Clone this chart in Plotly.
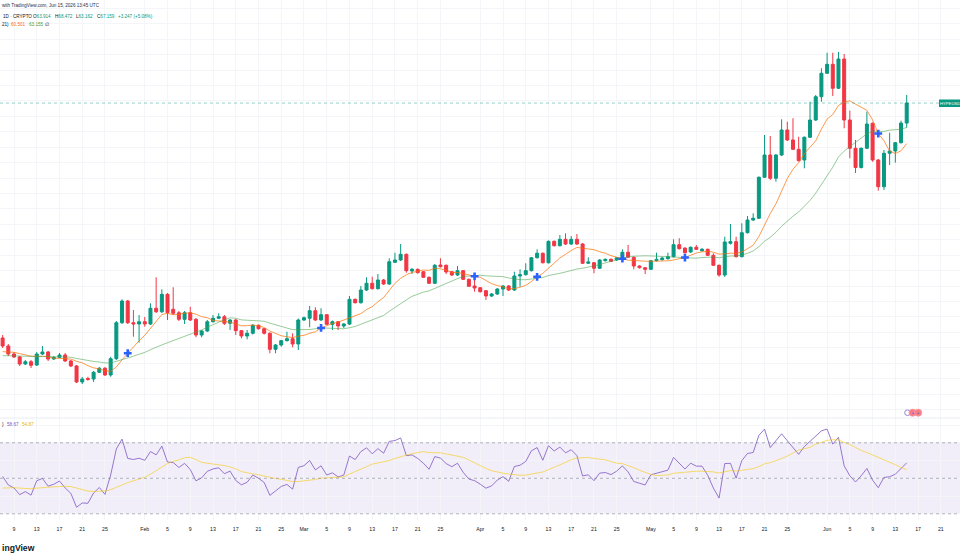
import numpy as np
import pandas as pd
import plotly.graph_objects as go

# ---------------- data ----------------
DATES = pd.date_range("2026-01-07", "2026-06-15", freq="D")

OPEN = [
    # Jan 7-31
    29.09, 27.80, 26.50, 26.02, 24.88, 25.25, 24.72, 26.50, 26.83, 25.69, 25.97, 26.34, 25.37, 24.56, 21.97, 22.53,
    22.45, 23.54, 24.19, 23.10, 25.74, 31.57, 35.09, 31.57, 31.36,
    # Feb
    31.73, 31.36, 33.91, 33.35, 36.17, 33.74, 33.19, 32.12, 33.19, 32.12, 29.58, 30.23, 31.73, 32.29, 32.54, 31.48,
    32.01, 30.28, 29.42, 29.86, 31.15, 30.60, 29.86, 27.26, 27.96, 28.66, 28.98, 28.12,
    # Mar
    32.01, 32.29, 33.52, 32.01, 32.87, 31.31, 31.73, 31.04, 31.36, 35.36, 34.81, 36.87, 37.96, 37.08, 38.49, 37.84,
    41.36, 41.73, 42.65, 39.95, 40.22, 39.83, 38.93, 37.96, 40.92, 40.87, 39.83, 39.30, 40.00, 38.60, 37.52,
    # Apr
    37.24, 36.76, 35.90, 36.22, 37.03, 37.52, 36.87, 39.14, 39.35, 40.00, 42.10, 42.82, 41.29, 44.76, 44.05, 45.08,
    44.32, 45.08, 44.32, 41.20, 41.29, 40.39, 41.62, 41.84, 41.73, 42.10, 42.98, 42.17, 40.76, 40.48,
    # May
    40.22, 41.62, 41.78, 41.94, 42.27, 44.21, 43.67, 43.03, 43.79, 43.24, 43.46, 42.49, 40.87, 39.30, 44.44, 44.70,
    42.27, 46.15, 48.21, 48.49, 55.13, 58.74, 54.97, 58.74, 62.79, 61.17, 59.66, 57.93, 61.61, 64.41, 68.18,
    # Jun 1-15
    71.98, 73.43, 69.55, 74.29, 64.41, 59.83, 56.72, 59.83, 63.88, 57.93, 53.60, 59.02, 59.39, 60.73, 63.914,
]
HIGH = [
    29.58, 28.12, 26.83, 26.18, 25.53, 25.53, 26.83, 27.80, 26.99, 26.18, 26.66, 26.66, 25.53, 24.72, 22.78, 22.82,
    23.75, 24.40, 24.40, 26.06, 31.85, 35.36, 35.25, 33.63, 32.82,
    32.50, 34.72, 38.93, 36.98, 36.38, 37.31, 33.47, 33.47, 34.16, 32.33, 30.39, 32.01, 32.82, 33.10, 32.82, 32.17,
    32.17, 30.39, 30.39, 31.36, 31.28, 30.71, 29.99, 28.12, 28.77, 30.11, 29.86, 32.25,
    32.58, 34.28, 34.07, 33.91, 32.98, 31.93, 31.85, 31.52, 35.90, 35.49, 37.52, 38.93, 39.02, 39.46, 38.65, 42.01,
    42.91, 44.32, 42.78, 40.43, 40.35, 39.95, 39.06, 41.08, 42.01, 41.00, 39.95, 40.76, 40.11, 38.73, 38.49,
    37.36, 36.87, 36.38, 37.19, 37.68, 37.68, 39.83, 40.22, 41.20, 42.22, 43.46, 42.95, 44.89, 44.89, 45.78, 46.06,
    45.62, 45.94, 44.48, 42.17, 41.41, 41.89, 41.97, 41.97, 42.22, 43.46, 44.16, 42.30, 40.87, 40.60,
    41.73, 42.91, 42.22, 42.91, 45.08, 45.25, 43.76, 43.92, 44.16, 43.67, 43.59, 42.82, 41.00, 45.50, 47.56, 45.50,
    47.68, 48.86, 49.30, 55.26, 61.98, 61.82, 58.90, 64.52, 64.13, 64.69, 61.70, 61.74, 67.37, 68.46, 72.79,
    75.31, 75.31, 75.45, 75.10, 65.92, 61.17, 59.96, 65.76, 64.01, 58.09, 59.55, 62.35, 60.85, 64.30, 68.472,
]
LOW = [
    27.47, 26.18, 25.85, 24.56, 24.72, 24.23, 24.56, 26.34, 25.37, 25.53, 25.85, 25.21, 24.40, 21.80, 21.64, 22.18,
    21.97, 23.42, 22.94, 22.82, 25.53, 31.36, 31.36, 29.30, 28.33,
    30.92, 31.20, 33.14, 33.14, 32.01, 32.82, 31.85, 31.36, 31.85, 29.21, 29.21, 30.07, 31.61, 32.17, 31.20, 30.39,
    29.58, 29.05, 28.88, 29.66, 30.47, 29.66, 26.62, 26.62, 27.69, 28.53, 27.59, 27.15,
    31.85, 30.83, 31.85, 31.85, 31.20, 30.39, 30.39, 30.71, 31.20, 34.68, 34.68, 36.71, 36.95, 36.95, 37.68, 37.68,
    41.24, 41.57, 39.67, 39.46, 39.54, 38.81, 37.84, 37.84, 40.52, 39.46, 39.14, 39.14, 38.49, 37.36, 36.59,
    36.47, 35.25, 35.74, 36.06, 35.90, 36.71, 36.71, 37.40, 39.22, 39.87, 41.97, 41.16, 41.16, 43.92, 43.92, 44.16,
    44.16, 44.16, 41.08, 41.08, 39.58, 40.27, 41.49, 41.41, 41.57, 41.97, 42.05, 40.22, 40.35, 39.46,
    40.11, 41.49, 41.65, 41.81, 42.14, 43.43, 42.78, 42.86, 43.35, 43.11, 42.38, 40.76, 39.02, 38.98, 44.24, 42.14,
    42.14, 46.02, 48.05, 48.37, 55.01, 54.69, 54.41, 58.58, 61.01, 59.55, 57.69, 56.59, 61.49, 64.25, 67.37,
    71.86, 68.30, 69.43, 63.07, 58.21, 55.82, 56.55, 59.71, 57.65, 52.96, 53.07, 57.12, 57.49, 60.60, 63.162,
]
CLOSE = [
    27.80, 26.50, 26.02, 24.88, 25.25, 24.67, 26.50, 26.83, 25.69, 25.94, 26.34, 25.37, 24.56, 21.97, 22.45, 22.40,
    23.54, 24.19, 23.10, 25.74, 31.57, 35.09, 31.57, 31.36, 31.73,
    31.36, 33.91, 33.35, 36.17, 33.19, 33.10, 32.12, 33.19, 32.01, 29.58, 30.23, 31.73, 32.29, 32.54, 31.48, 32.01,
    30.28, 29.42, 29.86, 31.15, 30.60, 29.86, 27.26, 27.96, 28.66, 28.98, 28.12, 32.01,
    32.38, 33.52, 32.01, 32.87, 31.31, 31.73, 31.04, 31.36, 35.36, 34.81, 36.87, 37.96, 37.08, 38.49, 37.84, 41.45,
    41.73, 42.65, 40.00, 40.22, 39.67, 38.93, 37.96, 40.87, 40.64, 39.79, 39.30, 40.00, 38.60, 37.47, 37.19,
    36.59, 35.90, 36.22, 37.03, 37.52, 36.87, 39.14, 39.35, 40.00, 42.10, 42.82, 41.29, 44.76, 44.05, 45.08, 44.32,
    45.08, 44.32, 41.20, 41.41, 40.39, 41.73, 41.84, 41.52, 42.10, 42.98, 42.17, 40.76, 40.48, 40.22,
    41.62, 41.84, 42.05, 42.27, 44.21, 43.56, 42.91, 43.79, 43.46, 43.46, 42.49, 40.87, 39.30, 44.65, 44.70, 42.27,
    46.15, 48.21, 48.49, 55.13, 58.74, 54.97, 58.74, 62.79, 61.17, 59.66, 57.82, 61.61, 64.41, 68.18, 71.98,
    73.43, 69.55, 74.29, 64.41, 59.83, 56.72, 59.83, 63.76, 57.93, 53.60, 59.02, 59.39, 60.73, 63.912, 67.159,
]

SMA9_SEED = 26.77
SMA21_SEED = 26.15
CROSS_DATES = ["2026-01-29", "2026-03-04", "2026-03-31", "2026-04-11", "2026-04-26", "2026-05-07", "2026-06-10"]

RSI_SEED_GAIN = 0.49
RSI_SEED_LOSS = 0.47
RSI_MA_SEED = 44.0

TICK_DATES = ["2026-01-09", "2026-01-13", "2026-01-17", "2026-01-21", "2026-01-25",
              "2026-02-01", "2026-02-05", "2026-02-09", "2026-02-13", "2026-02-17", "2026-02-21", "2026-02-25",
              "2026-03-01", "2026-03-05", "2026-03-09", "2026-03-13", "2026-03-17", "2026-03-21", "2026-03-25",
              "2026-04-01", "2026-04-05", "2026-04-09", "2026-04-13", "2026-04-17", "2026-04-21", "2026-04-25",
              "2026-05-01", "2026-05-05", "2026-05-09", "2026-05-13", "2026-05-17", "2026-05-21", "2026-05-25",
              "2026-06-01", "2026-06-05", "2026-06-09", "2026-06-13", "2026-06-17", "2026-06-21"]
TICK_TEXT = ["9", "13", "17", "21", "25",
             "Feb", "5", "9", "13", "17", "21", "25",
             "Mar", "5", "9", "13", "17", "21", "25",
             "Apr", "5", "9", "13", "17", "21", "25",
             "May", "5", "9", "13", "17", "21", "25",
             "Jun", "5", "9", "13", "17", "21"]

HEADER_TIME = "with TradingView.com, Jun 15, 2026 13:45 UTC"
SYMBOL_TXT = "1D · CRYPTO"
CHANGE_TXT = "+3.247 (+5.08%)"
MA_LEGEND = ("21)", "60.501", "63.155", "∅")
RSI_LEGEND = (")", "58.67", "54.87")
BADGE_TXT = "HYPEUSD"
LOGO_TXT = "ingView"

# ---------------- indicators ----------------
sma9 = pd.Series([SMA9_SEED] * 8 + CLOSE).rolling(9).mean().iloc[8:].to_numpy()
sma21 = pd.Series([SMA21_SEED] * 20 + CLOSE).rolling(21).mean().iloc[20:].to_numpy()

g, l = RSI_SEED_GAIN, RSI_SEED_LOSS
rsi = []
for i, c in enumerate(CLOSE):
    if i > 0:
        d = c - CLOSE[i - 1]
        g = (g * 13 + max(d, 0.0)) / 14
        l = (l * 13 + max(-d, 0.0)) / 14
    rsi.append(100 - 100 / (1 + g / l))
rsi_ma = pd.Series([RSI_MA_SEED] * 13 + rsi).rolling(14).mean().iloc[13:].to_numpy()

date_idx = {d: i for i, d in enumerate(DATES.strftime("%Y-%m-%d"))}
cross_y = [sma9[date_idx[d]] for d in CROSS_DATES]

# ---------------- geometry helpers (pixel -> paper) ----------------
W, H = 960, 560
PX_DAY = 5.686
X0 = pd.Timestamp("2026-01-09") - pd.Timedelta(days=14 / PX_DAY)
X1 = pd.Timestamp("2026-01-09") + pd.Timedelta(days=(W - 14) / PX_DAY)
MAIN_BOTTOM, RSI_BOTTOM = 418, 520


def px(x):
    return x / W


def py(y):
    return 1 - y / H


UP, DOWN = "#089981", "#F23645"
GRID = "#F3F5F9"
TXT = "#131722"
FONT = "Liberation Sans, Arial, sans-serif"

fig = go.Figure()
fig.add_trace(go.Candlestick(
    x=DATES, open=OPEN, high=HIGH, low=LOW, close=CLOSE,
    increasing=dict(line=dict(color=UP, width=1), fillcolor=UP),
    decreasing=dict(line=dict(color=DOWN, width=1), fillcolor=DOWN),
    whiskerwidth=0, xaxis="x", yaxis="y", showlegend=False, hoverinfo="skip",
))
fig.add_trace(go.Scatter(x=DATES, y=sma9, mode="lines", line=dict(color="rgba(255,109,0,0.7)", width=1),
                         xaxis="x", yaxis="y", showlegend=False, hoverinfo="skip"))
fig.add_trace(go.Scatter(x=DATES, y=sma21, mode="lines", line=dict(color="rgba(67,160,71,0.55)", width=1),
                         xaxis="x", yaxis="y", showlegend=False, hoverinfo="skip"))
fig.add_trace(go.Scatter(x=pd.to_datetime(CROSS_DATES), y=cross_y, mode="markers",
                         marker=dict(symbol="cross", size=6.5, color="#2962FF", line=dict(width=0)),
                         xaxis="x", yaxis="y", showlegend=False, hoverinfo="skip"))
fig.add_trace(go.Scatter(x=DATES, y=rsi, mode="lines", line=dict(color="rgba(126,87,194,0.8)", width=1),
                         xaxis="x2", yaxis="y2", showlegend=False, hoverinfo="skip"))
fig.add_trace(go.Scatter(x=DATES, y=rsi_ma, mode="lines", line=dict(color="rgba(247,201,10,0.6)", width=1),
                         xaxis="x2", yaxis="y2", showlegend=False, hoverinfo="skip"))

# main pane: pixel 0..418 ; price = 83.85 - 0.162*y
y_top = 83.85
y_bot = 83.85 - 0.162 * MAIN_BOTTOM
# rsi pane: pixel 418..520 ; 50 at 478.3, 1.775 px per unit
r_top = 50 + (478.3 - MAIN_BOTTOM) / 1.775
r_bot = 50 - (RSI_BOTTOM - 478.3) / 1.775

common_x = dict(range=[X0, X1], tickvals=pd.to_datetime(TICK_DATES), showgrid=True, gridcolor=GRID, gridwidth=1,
                zeroline=False, showline=False, ticks="", fixedrange=True)
fig.update_layout(
    width=W, height=H, margin=dict(l=0, r=0, t=0, b=0),
    paper_bgcolor="white", plot_bgcolor="white",
    font=dict(family=FONT, color=TXT, size=5),
    showlegend=False, boxgap=0.25,
    xaxis=dict(domain=[0, 1], anchor="y", showticklabels=False, rangeslider=dict(visible=False), **common_x),
    xaxis2=dict(domain=[0, 1], anchor="y2", matches="x", showticklabels=True, ticktext=TICK_TEXT,
                tickfont=dict(size=5.2, color=TXT, family=FONT), ticklabelstandoff=5, automargin=False,
                **common_x),
    yaxis=dict(domain=[py(MAIN_BOTTOM), 1], range=[y_bot, y_top], dtick=2.5, tick0=0, showgrid=True,
               gridcolor=GRID, zeroline=False, showticklabels=False, fixedrange=True),
    yaxis2=dict(domain=[py(RSI_BOTTOM), py(MAIN_BOTTOM)], range=[r_bot, r_top], dtick=10, tick0=0,
                showgrid=True, gridcolor=GRID, zeroline=False, showticklabels=False, fixedrange=True),
)

shapes = []
# RSI band and dashed levels
shapes.append(dict(type="rect", xref="paper", yref="y2", x0=0, x1=1, y0=30, y1=70,
                   fillcolor="rgba(126,87,194,0.10)", line=dict(width=0), layer="below"))
for lvl in (70, 50, 30):
    shapes.append(dict(type="line", xref="paper", yref="y2", x0=0, x1=1, y0=lvl, y1=lvl,
                       line=dict(color="rgba(120,123,134,0.55)", width=1, dash="3px,3px")))
# last price dotted line
shapes.append(dict(type="line", xref="paper", yref="y", x0=0, x1=px(939), y0=CLOSE[-1], y1=CLOSE[-1],
                   line=dict(color="rgba(8,153,129,0.45)", width=1, dash="dot")))
# pane separator
shapes.append(dict(type="line", xref="paper", yref="paper", x0=0, x1=1, y0=py(MAIN_BOTTOM), y1=py(MAIN_BOTTOM),
                   line=dict(color="#E9ECF2", width=1)))
# symbol badge on price scale
shapes.append(dict(type="rect", xref="paper", yref="paper", x0=px(939), x1=1, y0=py(107), y1=py(99.5),
                   fillcolor=UP, line=dict(width=0)))
# event icons
shapes.append(dict(type="circle", xref="paper", yref="paper", x0=px(904.7), x1=px(910.3), y0=py(415.5),
                   y1=py(409.9), line=dict(color="#9C7DD6", width=1), fillcolor="white"))
for cx in (912.6, 918.2):
    shapes.append(dict(type="circle", xref="paper", yref="paper", x0=px(cx - 3.6), x1=px(cx + 3.6),
                       y0=py(416.3), y1=py(409.1), line=dict(color="#F7A0A6", width=0.8),
                       fillcolor="#F77C86"))
fig.update_layout(shapes=shapes)

ann = []


def text(x, y, s, size=4.6, color=TXT, anchor="left", bold=False):
    ann.append(dict(xref="paper", yref="paper", x=px(x), y=py(y), text=("<b>%s</b>" % s) if bold else s,
                    showarrow=False, xanchor=anchor, yanchor="middle",
                    font=dict(size=size, color=color, family=FONT)))


text(0, 5.7, HEADER_TIME, color="#2A2E39")
text(0.5, 16.7, SYMBOL_TXT)
text(31, 16.7, "O<span style='color:%s'>%.3f</span>" % (UP, OPEN[-1]))
text(53, 16.7, "H<span style='color:%s'>%.3f</span>" % (UP, HIGH[-1]))
text(74, 16.7, "L<span style='color:%s'>%.3f</span>" % (UP, LOW[-1]))
text(95, 16.7, "C<span style='color:%s'>%.3f</span>" % (UP, CLOSE[-1]))
text(116, 16.7, CHANGE_TXT, color=UP)
text(0, 24.3, MA_LEGEND[0])
text(9, 24.3, MA_LEGEND[1], color="#FF6D00")
text(26.7, 24.3, MA_LEGEND[2], color="#43A047")
text(43, 24.3, MA_LEGEND[3])
text(0, 424.3, RSI_LEGEND[0])
text(5, 424.3, RSI_LEGEND[1], color="#7E57C2")
text(20, 424.3, RSI_LEGEND[2], color="#E6B800")
text(949.5, 103.3, BADGE_TXT, size=4.2, color="white", anchor="center")
text(912.6, 412.7, "●", size=3, color="#2962FF", anchor="center")
text(918.2, 412.7, "●", size=3, color="#2962FF", anchor="center")
text(0, 547.7, LOGO_TXT, size=8.6, bold=True)
fig.update_layout(annotations=ann)

fig.write_html("out.html")
